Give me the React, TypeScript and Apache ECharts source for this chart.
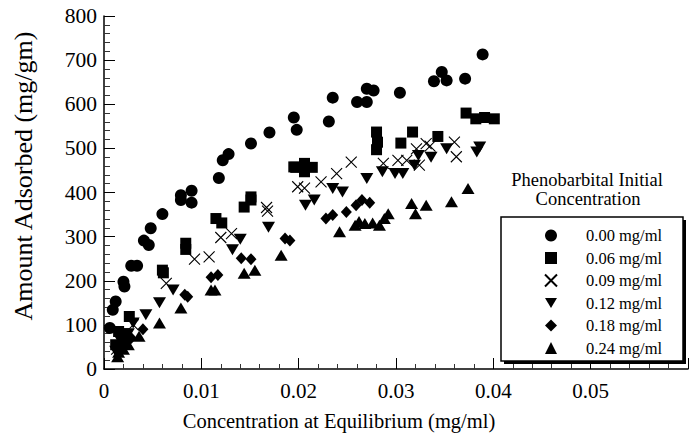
import React, { useEffect, useRef } from "react";
import * as echarts from "echarts";

const seriesNames = ["0.00 mg/ml", "0.06 mg/ml", "0.09 mg/ml", "0.12 mg/ml", "0.18 mg/ml", "0.24 mg/ml"];

const c000 = [[0.0006,93],[0.0009,134],[0.0012,153],[0.0020,198],[0.0021,187],[0.0028,234],[0.0034,234],[0.0041,291],[0.0046,281],[0.0048,319],[0.0060,351],[0.0079,383],[0.0079,394],[0.0090,377],[0.0090,404],[0.0118,433],[0.0122,473],[0.0128,487],[0.0151,511],[0.0170,536],[0.0195,570],[0.0198,542],[0.0231,561],[0.0235,615],[0.0260,605],[0.0270,605],[0.0270,635],[0.0277,631],[0.0304,626],[0.0339,652],[0.0347,673],[0.0352,654],[0.0371,658],[0.0389,713]];
const c006 = [[0.0012,55],[0.0015,85],[0.0020,80],[0.0022,60],[0.0026,119],[0.0060,224],[0.0061,218],[0.0084,285],[0.0084,271],[0.0115,341],[0.0121,331],[0.0144,367],[0.0151,383],[0.0151,390],[0.0195,458],[0.0197,457],[0.0206,466],[0.0214,457],[0.0206,447],[0.0280,537],[0.0281,514],[0.0280,497],[0.0305,512],[0.0317,537],[0.0343,527],[0.0372,580],[0.0382,567],[0.0391,570],[0.0401,567]];
const c009 = [[0.0013,45],[0.0020,65],[0.0030,100],[0.0064,194],[0.0093,249],[0.0108,254],[0.0120,298],[0.0131,307],[0.0167,366],[0.0168,358],[0.0199,413],[0.0206,410],[0.0223,424],[0.0239,443],[0.0254,469],[0.0287,466],[0.0302,473],[0.0311,473],[0.0321,499],[0.0324,462],[0.0331,511],[0.0335,505],[0.0360,514],[0.0362,481]];
const c012 = [[0.0012,40],[0.0018,60],[0.0025,80],[0.0030,104],[0.0043,123],[0.0057,150],[0.0071,179],[0.0132,270],[0.0140,294],[0.0169,321],[0.0207,371],[0.0216,383],[0.0235,409],[0.0245,401],[0.0270,432],[0.0286,447],[0.0299,443],[0.0307,443],[0.0319,462],[0.0323,484],[0.0336,480],[0.0352,499],[0.0383,492],[0.0386,503]];
const c018 = [[0.0015,45],[0.0020,55],[0.0028,70],[0.0040,90],[0.0083,168],[0.0086,164],[0.0110,208],[0.0117,213],[0.0141,251],[0.0151,249],[0.0186,296],[0.0191,291],[0.0228,341],[0.0235,349],[0.0249,356],[0.0259,371],[0.0265,383],[0.0273,377]];
const c024 = [[0.0014,28],[0.0015,38],[0.0020,45],[0.0025,55],[0.0036,74],[0.0057,104],[0.0079,138],[0.0110,179],[0.0114,179],[0.0144,217],[0.0155,224],[0.0182,258],[0.0242,311],[0.0258,326],[0.0262,334],[0.0268,330],[0.0276,331],[0.0283,326],[0.0288,341],[0.0292,352],[0.0316,375],[0.0320,352],[0.0331,371],[0.0357,379],[0.0374,409]];

const seriesData = [c000, c006, c009, c012, c018, c024];
const symbols = ["circle", "rect", "path://M0,0L10,10M0,10L10,0", "path://M0,0L12,0L6,10Z", "diamond", "triangle"];
const symbolSizes: any[] = [12, 11, 11, [13, 11], [11, 12], [13, 11]];

const xTitle = "Concentration at Equilibrium (mg/ml)";
const yTitle = "Amount Adsorbed (mg/gm)";
const legendTitle = ["Phenobarbital Initial", "Concentration"];

const FONT = "Liberation Serif";

export default function App() {
  const ref = useRef<HTMLDivElement>(null);
  useEffect(() => {
    if (!ref.current) return;
    const chart = echarts.init(ref.current, null, { renderer: "svg" });
    const series = seriesData.map((d, i) => ({
      name: seriesNames[i],
      type: "scatter",
      data: d,
      symbol: symbols[i],
      symbolSize: symbolSizes[i],
      itemStyle: i === 2
        ? { color: "rgba(0,0,0,0)", borderColor: "#000", borderWidth: 1.1, opacity: 1 }
        : { color: "#000", opacity: 1 },
    }));
    chart.setOption({
      animation: false,
      backgroundColor: "#fff",
      grid: { left: 104, right: 3, top: 16, bottom: 75 },
      xAxis: {
        type: "value",
        min: 0,
        max: 0.06,
        interval: 0.01,
        axisLine: { show: true, lineStyle: { color: "#000", width: 1.5 } },
        axisTick: { show: true, inside: true, length: 11, lineStyle: { color: "#000", width: 1 } },
        minorTick: { show: true, splitNumber: 5, length: 5, lineStyle: { color: "#333", width: 1 } },
        splitLine: { show: false },
        axisLabel: {
          color: "#000",
          fontFamily: FONT,
          fontSize: 21,
          margin: 11,
          formatter: (v: number) => (v >= 0.0599 ? "" : v === 0 ? "0" : v.toFixed(2)),
        },
      },
      yAxis: {
        type: "value",
        min: 0,
        max: 800,
        interval: 100,
        axisLine: { show: true, lineStyle: { color: "#000", width: 1.5 } },
        axisTick: { show: true, inside: true, length: 11, lineStyle: { color: "#000", width: 1 } },
        minorTick: { show: true, splitNumber: 5, length: 6, lineStyle: { color: "#333", width: 1 } },
        splitLine: { show: false },
        axisLabel: { color: "#000", fontFamily: FONT, fontSize: 21.5, margin: 7 },
      },
      legend: {
        show: true,
        orient: "vertical",
        left: 539,
        top: 222,
        itemWidth: 12,
        itemHeight: 12,
        itemGap: 5.5,
        selectedMode: false,
        data: seriesNames,
        textStyle: { color: "#000", fontFamily: FONT, fontSize: 16.5, padding: [0, 0, 0, 24] },
      },
      graphic: [
        { type: "rect", z: 1, shape: { x: 504, y: 220, width: 182, height: 144 }, style: { fill: "#000" } },
        { type: "rect", z: 2, shape: { x: 501, y: 217, width: 182, height: 144 }, style: { fill: "#fff", stroke: "#000", lineWidth: 1.5 } },
        { type: "text", x: 587, y: 180, style: { text: legendTitle[0], textAlign: "center", textVerticalAlign: "middle", fontSize: 18.5, fontFamily: FONT, fill: "#000" } },
        { type: "text", x: 588, y: 199, style: { text: legendTitle[1], textAlign: "center", textVerticalAlign: "middle", fontSize: 18.5, fontFamily: FONT, fill: "#000" } },
        { type: "text", x: 339, y: 421, style: { text: xTitle, textAlign: "center", textVerticalAlign: "middle", fontSize: 20.5, fontFamily: FONT, fill: "#000" } },
        { type: "text", x: 23, y: 176, rotation: Math.PI / 2, style: { text: yTitle, textAlign: "center", textVerticalAlign: "middle", fontSize: 26, fontFamily: FONT, fill: "#000" } },
      ],
      series,
    });
    return () => chart.dispose();
  }, []);
  return <div ref={ref} style={{ position: "fixed", left: 0, top: 0, width: 691, height: 444 }} />;
}
